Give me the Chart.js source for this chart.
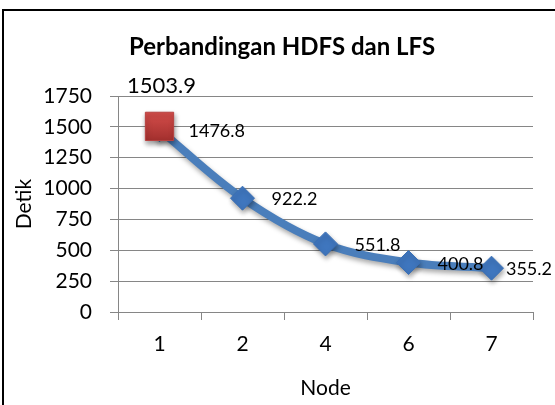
<!DOCTYPE html>
<html>
<head>
<meta charset="utf-8">
<script src="https://cdn.jsdelivr.net/npm/chart.js@4"></script>
<style>
html, body { margin: 0; padding: 0; background: #fff; overflow: hidden; }
#wrap { position: relative; width: 555px; height: 405px; }
#frame { position: absolute; left: 2px; top: 9px; width: 620px; height: 480px; border: 2px solid #000; }
#chart { position: absolute; left: 0; top: 0; }
</style>
</head>
<body>
<div id="wrap">
    <div id="frame"></div>
    <canvas id="chart" width="555" height="405"></canvas>
</div>
<script>
// data
const nodes = ["1", "2", "4", "6", "7"];
const hdfsTimes = [1476.8, 922.2, 551.8, 400.8, 355.2];
const lfsTimes = [1503.9, null, null, null, null];
const yMin = 0;
const yMax = 1750;
const yStep = 250;

const titleText = "Perbandingan HDFS dan LFS";
const fontFamily = "Lato, 'Open Sans', sans-serif";

// chart title drawn centred over the frame
const titlePlugin = {
    id: "chartTitle",
    afterDraw(chart) {
        const ctx = chart.ctx;
        ctx.save();
        ctx.font = "bold 24px " + fontFamily;
        ctx.fillStyle = "#000";
        ctx.textAlign = "center";
        ctx.textBaseline = "middle";
        ctx.fillText(titleText, 282, 47);
        ctx.restore();
    }
};

// soft shadow under the line and markers
const shadowPlugin = {
    id: "lineShadow",
    beforeDatasetDraw(chart) {
        const ctx = chart.ctx;
        ctx.save();
        ctx.shadowColor = "rgba(0,0,0,0.35)";
        ctx.shadowBlur = 5;
        ctx.shadowOffsetX = 1;
        ctx.shadowOffsetY = 3;
    },
    afterDatasetDraw(chart) {
        chart.ctx.restore();
    }
};

// value labels next to the points
const valueLabels = {
    id: "valueLabels",
    afterDatasetsDraw(chart) {
        const ctx = chart.ctx;
        ctx.save();
        ctx.fillStyle = "#000";
        ctx.textBaseline = "middle";
        chart.data.datasets.forEach((ds, di) => {
            const meta = chart.getDatasetMeta(di);
            meta.data.forEach((pt, i) => {
                const v = ds.data[i];
                if (v == null) return;
                const text = v.toFixed(1);
                if (ds.labelPosition === "above") {
                    ctx.font = "22px " + fontFamily;
                    ctx.textAlign = "center";
                    ctx.fillText(text, pt.x + 2, pt.y - 40);
                } else {
                    ctx.font = "18px " + fontFamily;
                    ctx.textAlign = "left";
                    const w = ctx.measureText(text).width;
                    const x = Math.min(pt.x + 29, 552 - w);
                    ctx.fillText(text, x, pt.y + 1.5);
                }
            });
        });
        ctx.restore();
    }
};

function redGradient(context) {
    const chart = context.chart;
    const yScale = chart.scales.y;
    if (context.raw == null || !yScale) return "#c0504d";
    const y = yScale.getPixelForValue(context.raw);
    if (!Number.isFinite(y)) return "#c0504d";
    const g = chart.ctx.createLinearGradient(0, y - 14, 0, y + 14);
    g.addColorStop(0, "#d44d4a");
    g.addColorStop(1, "#a3302e");
    return g;
}

const gridColor = "#868686";

new Chart(document.getElementById("chart"), {
    type: "line",
    data: {
        labels: nodes,
        datasets: [
            {
                label: "HDFS",
                data: hdfsTimes,
                order: 1,
                labelPosition: "right",
                borderColor: "#4a7ebb",
                borderWidth: 8,
                tension: 0.35,
                pointStyle: "rectRot",
                pointRadius: 12,
                pointBackgroundColor: "#3f76be",
                pointBorderColor: "#3a6fb5",
                pointBorderWidth: 1
            },
            {
                label: "LFS",
                data: lfsTimes,
                order: 0,
                labelPosition: "above",
                showLine: false,
                pointStyle: "rect",
                pointRadius: 20,
                pointBackgroundColor: redGradient,
                pointBorderColor: "#b84240",
                pointBorderWidth: 1
            }
        ]
    },
    options: {
        responsive: false,
        animation: false,
        layout: {
            padding: { top: 96, right: 22, bottom: 0, left: 0 }
        },
        plugins: {
            legend: { display: false },
            tooltip: { enabled: false }
        },
        scales: {
            x: {
                offset: true,
                afterFit(scale) { scale.height = 93; },
                grid: {
                    offset: true,
                    drawOnChartArea: false,
                    color: gridColor,
                    tickLength: 8
                },
                border: { color: gridColor, width: 1 },
                ticks: {
                    color: "#000",
                    font: { family: fontFamily, size: 21 },
                    padding: 12
                },
                title: {
                    display: true,
                    text: "Node",
                    color: "#000",
                    font: { family: fontFamily, size: 21 },
                    padding: { top: 0, bottom: 4 }
                }
            },
            y: {
                min: yMin,
                max: yMax,
                afterFit(scale) { scale.width = 118; },
                grid: {
                    color: gridColor,
                    tickLength: 8
                },
                border: { color: gridColor, width: 1 },
                ticks: {
                    stepSize: yStep,
                    color: "#000",
                    font: { family: fontFamily, size: 21 },
                    padding: 18,
                    callback: value => String(value)
                },
                title: {
                    display: true,
                    text: "Detik",
                    color: "#000",
                    font: { family: fontFamily, size: 21 },
                    padding: { top: 12, bottom: 0 }
                }
            }
        }
    },
    plugins: [titlePlugin, shadowPlugin, valueLabels]
});
</script>
</body>
</html>
